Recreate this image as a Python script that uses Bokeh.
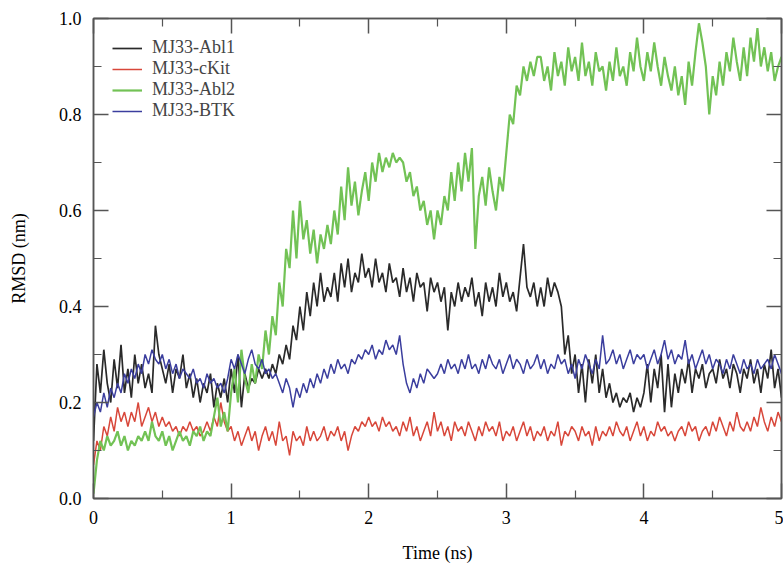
import numpy as np
from bokeh.plotting import figure
from bokeh.models import Range1d, LinearAxis, FixedTicker, PrintfTickFormatter, Legend, LegendItem
from bokeh.embed import file_html
from bokeh.resources import INLINE

# time axis (ns), 0.025 ns sampling
time_ns = np.linspace(0, 5, 201)

abl1 = [
    0.12, 0.28, 0.22, 0.31, 0.24, 0.20, 0.29, 0.23, 0.32, 0.22,
    0.27, 0.21, 0.30, 0.24, 0.28, 0.23, 0.26, 0.22, 0.36, 0.30,
    0.27, 0.24, 0.28, 0.22, 0.27, 0.25, 0.30, 0.23, 0.26, 0.21,
    0.25, 0.20, 0.24, 0.22, 0.26, 0.19, 0.24, 0.21, 0.25, 0.20,
    0.27, 0.22, 0.30, 0.19, 0.26, 0.23, 0.25, 0.24, 0.27, 0.25,
    0.27, 0.25, 0.28, 0.26, 0.30, 0.28, 0.32, 0.29, 0.36, 0.33,
    0.40, 0.35, 0.43, 0.38, 0.45, 0.40, 0.47, 0.41, 0.44, 0.42,
    0.47, 0.41, 0.49, 0.44, 0.50, 0.43, 0.47, 0.45, 0.51, 0.46,
    0.48, 0.44, 0.50, 0.45, 0.47, 0.43, 0.49, 0.45, 0.46, 0.42,
    0.48, 0.43, 0.46, 0.41, 0.47, 0.44, 0.45, 0.39, 0.46, 0.43,
    0.45, 0.41, 0.44, 0.35, 0.43, 0.40, 0.45, 0.41, 0.44, 0.42,
    0.46, 0.40, 0.43, 0.38, 0.45, 0.41, 0.44, 0.40, 0.47, 0.42,
    0.45, 0.41, 0.43, 0.39, 0.46, 0.53, 0.44, 0.42, 0.45, 0.40,
    0.44, 0.40, 0.46, 0.42, 0.45, 0.43, 0.40, 0.30, 0.34, 0.26,
    0.30, 0.22, 0.28, 0.20, 0.29, 0.24, 0.30, 0.22, 0.27, 0.21,
    0.24, 0.20, 0.22, 0.19, 0.21, 0.20, 0.22, 0.18, 0.21, 0.19,
    0.22, 0.28, 0.20, 0.27, 0.23, 0.30, 0.18, 0.28, 0.19, 0.26,
    0.22, 0.27, 0.24, 0.29, 0.22, 0.27, 0.25, 0.28, 0.23, 0.26,
    0.27, 0.24, 0.29, 0.25, 0.27, 0.23, 0.28, 0.26, 0.22, 0.27,
    0.25, 0.29, 0.24, 0.27, 0.22, 0.28, 0.25, 0.31, 0.23, 0.27,
    0.21,
]

ckit = [
    0.07, 0.12, 0.10, 0.15, 0.13, 0.17, 0.14, 0.19, 0.16, 0.18,
    0.15, 0.18, 0.16, 0.20, 0.15, 0.17, 0.19, 0.16, 0.18, 0.15,
    0.17, 0.15, 0.16, 0.14, 0.15, 0.13, 0.15, 0.14, 0.16, 0.14,
    0.15, 0.13, 0.14, 0.16, 0.14, 0.17, 0.15, 0.20, 0.16, 0.14,
    0.15, 0.12, 0.14, 0.11, 0.13, 0.15, 0.12, 0.14, 0.10, 0.13,
    0.15, 0.12, 0.14, 0.11, 0.16, 0.12, 0.13, 0.09, 0.14, 0.12,
    0.13, 0.11, 0.15, 0.12, 0.14, 0.12, 0.13, 0.15, 0.12, 0.14,
    0.13, 0.15, 0.12, 0.14, 0.10, 0.13, 0.15, 0.14, 0.16, 0.15,
    0.17, 0.15, 0.16, 0.14, 0.17, 0.15, 0.16, 0.14, 0.15, 0.13,
    0.16, 0.14, 0.17, 0.13, 0.15, 0.12, 0.14, 0.16, 0.13, 0.18,
    0.14, 0.16, 0.13, 0.15, 0.12, 0.16, 0.14, 0.15, 0.13, 0.16,
    0.14, 0.12, 0.15, 0.13, 0.16, 0.14, 0.15, 0.13, 0.16, 0.12,
    0.14, 0.13, 0.15, 0.12, 0.14, 0.16, 0.13, 0.15, 0.12, 0.14,
    0.13, 0.15, 0.12, 0.14, 0.13, 0.16, 0.11, 0.14, 0.13, 0.15,
    0.14, 0.12, 0.15, 0.13, 0.14, 0.11, 0.15, 0.12, 0.14, 0.13,
    0.15, 0.13, 0.16, 0.14, 0.13, 0.15, 0.12, 0.14, 0.16, 0.13,
    0.15, 0.12, 0.14, 0.13, 0.16, 0.14, 0.15, 0.13, 0.14, 0.12,
    0.14, 0.15, 0.13, 0.16, 0.14, 0.15, 0.12, 0.14, 0.15, 0.13,
    0.16, 0.14, 0.17, 0.15, 0.13, 0.16, 0.14, 0.18, 0.15, 0.14,
    0.16, 0.14, 0.17, 0.15, 0.19, 0.16, 0.14, 0.17, 0.15, 0.18,
    0.16,
]

abl2 = [
    0.01, 0.08, 0.12, 0.10, 0.13, 0.11, 0.12, 0.14, 0.11, 0.13,
    0.10, 0.12, 0.11, 0.13, 0.12, 0.14, 0.12, 0.16, 0.13, 0.12,
    0.14, 0.11, 0.13, 0.10, 0.12, 0.14, 0.12, 0.13, 0.11, 0.14,
    0.13, 0.15, 0.12, 0.14, 0.13, 0.17, 0.21, 0.15, 0.18, 0.14,
    0.22, 0.27, 0.20, 0.31, 0.25, 0.22, 0.28, 0.24, 0.30, 0.27,
    0.35, 0.30, 0.38, 0.34, 0.45, 0.40, 0.52, 0.48, 0.60, 0.50,
    0.62, 0.54, 0.58, 0.51, 0.56, 0.49, 0.55, 0.52, 0.57, 0.53,
    0.60, 0.55, 0.65, 0.58, 0.69, 0.61, 0.66, 0.59, 0.64, 0.68,
    0.62, 0.70, 0.66, 0.72, 0.68, 0.71, 0.69, 0.72, 0.70, 0.71,
    0.70, 0.66, 0.68, 0.63, 0.65, 0.60, 0.62, 0.57, 0.60, 0.54,
    0.60, 0.57, 0.63, 0.60, 0.68, 0.62, 0.70, 0.64, 0.72, 0.66,
    0.73, 0.52, 0.63, 0.67, 0.61, 0.69, 0.64, 0.60, 0.67, 0.64,
    0.72, 0.80, 0.78, 0.86, 0.84, 0.90, 0.87, 0.91, 0.88, 0.92,
    0.92, 0.87, 0.90, 0.85, 0.93, 0.88, 0.91, 0.86, 0.94, 0.89,
    0.92, 0.87, 0.95, 0.88, 0.91, 0.86, 0.93, 0.89, 0.90, 0.85,
    0.91, 0.87, 0.94, 0.88, 0.90, 0.86, 0.93, 0.89, 0.96, 0.90,
    0.87, 0.93, 0.89, 0.95, 0.90, 0.86, 0.92, 0.88, 0.85, 0.90,
    0.84, 0.88, 0.82, 0.91, 0.86, 0.93, 0.99, 0.95, 0.90, 0.80,
    0.88, 0.84, 0.91, 0.86, 0.93, 0.89, 0.96, 0.91, 0.87, 0.94,
    0.88, 0.96, 0.91, 0.98, 0.90, 0.94, 0.89, 0.93, 0.87, 0.90,
    0.92,
]

btk = [
    0.17, 0.20, 0.18, 0.22, 0.19, 0.23, 0.21, 0.24, 0.22, 0.26,
    0.24, 0.27, 0.25, 0.28, 0.26, 0.30, 0.28, 0.31, 0.29, 0.28,
    0.30, 0.27, 0.29, 0.26, 0.28, 0.25, 0.27, 0.26, 0.25, 0.27,
    0.24, 0.25, 0.23, 0.26, 0.24, 0.25, 0.23, 0.24, 0.22, 0.25,
    0.29, 0.27, 0.30, 0.28, 0.26, 0.29, 0.31, 0.28, 0.27, 0.29,
    0.26, 0.27, 0.25, 0.26, 0.24, 0.22, 0.25, 0.23, 0.19, 0.23,
    0.21, 0.24, 0.22, 0.25, 0.23, 0.26, 0.24, 0.27, 0.25, 0.28,
    0.26, 0.29, 0.27, 0.28, 0.26, 0.29, 0.28, 0.30, 0.29, 0.31,
    0.30, 0.32, 0.29, 0.31, 0.30, 0.33, 0.31, 0.32, 0.30, 0.34,
    0.28, 0.24, 0.22, 0.25, 0.23, 0.26, 0.24, 0.27, 0.26, 0.25,
    0.26, 0.28, 0.26, 0.29, 0.27, 0.28, 0.26, 0.29, 0.27, 0.30,
    0.27, 0.28, 0.26, 0.29, 0.27, 0.30, 0.28, 0.27, 0.29, 0.26,
    0.28, 0.30, 0.27, 0.29, 0.28, 0.26, 0.29, 0.27, 0.28, 0.30,
    0.27, 0.29, 0.26, 0.28, 0.27, 0.30, 0.28, 0.29, 0.26, 0.28,
    0.25, 0.29, 0.27, 0.30, 0.28, 0.26, 0.29, 0.27, 0.34, 0.28,
    0.29, 0.31, 0.28, 0.30, 0.27, 0.29, 0.31, 0.28, 0.30, 0.29,
    0.30, 0.27, 0.29, 0.31, 0.28, 0.30, 0.33, 0.29, 0.31, 0.28,
    0.30, 0.29, 0.33, 0.28, 0.30, 0.27, 0.29, 0.31, 0.28, 0.30,
    0.27, 0.29, 0.28, 0.26, 0.29, 0.27, 0.30, 0.28, 0.26, 0.29,
    0.27, 0.28, 0.26, 0.29, 0.27, 0.28, 0.29, 0.27, 0.30, 0.28,
    0.26,
]

series_names = ["MJ33-Abl1", "MJ33-cKit", "MJ33-Abl2", "MJ33-BTK"]
series_colors = ["#2a2a2a", "#d8473a", "#72c255", "#3b3e9e"]
series_widths = [1.7, 1.5, 2.2, 1.5]

x_ticks = [0, 1, 2, 3, 4, 5]
x_minor = [0.5, 1.5, 2.5, 3.5, 4.5]
y_ticks = [0.0, 0.2, 0.4, 0.6, 0.8, 1.0]
y_minor = [0.1, 0.3, 0.5, 0.7, 0.9]

FONT = "'Liberation Serif', serif"
AX = "#555555"

p = figure(width=783, height=567, output_backend="svg", toolbar_location=None,
           x_range=Range1d(0, 5), y_range=Range1d(0, 1.0),
           min_border_left=93, min_border_right=2, min_border_top=18, min_border_bottom=69,
           x_axis_label="Time (ns)", y_axis_label="RMSD (nm)")
p.grid.visible = False
p.outline_line_color = AX
p.outline_line_width = 1.5
p.background_fill_color = "white"
p.border_fill_color = "white"

renderers = []
for data, col, w in zip([abl1, ckit, abl2, btk], series_colors, series_widths):
    r = p.line(time_ns, data, line_color=col, line_width=w)
    renderers.append(r)


def style_axis(ax, show_labels=True):
    ax.axis_line_color = AX
    ax.axis_line_width = 1.5
    ax.major_tick_line_color = AX
    ax.minor_tick_line_color = AX
    ax.major_tick_line_width = 1.5
    ax.minor_tick_line_width = 1.2
    ax.major_tick_in = 15
    ax.major_tick_out = 0
    ax.minor_tick_in = 8
    ax.minor_tick_out = 0
    ax.major_label_text_font = FONT
    ax.major_label_text_font_size = "18px"
    ax.major_label_text_color = "black" if show_labels else None
    ax.axis_label_text_font = FONT
    ax.axis_label_text_font_size = "18px"
    ax.axis_label_text_font_style = "normal"
    ax.axis_label_text_color = "black"


xa = p.xaxis[0]
xa.ticker = FixedTicker(ticks=x_ticks, minor_ticks=x_minor)
style_axis(xa)
xa.major_label_standoff = 12
xa.axis_label_standoff = 16

ya = p.yaxis[0]
ya.ticker = FixedTicker(ticks=y_ticks, minor_ticks=y_minor)
ya.formatter = PrintfTickFormatter(format="%.1f")
style_axis(ya)
ya.major_label_standoff = 12
ya.axis_label_standoff = 27

top = LinearAxis(ticker=FixedTicker(ticks=x_ticks, minor_ticks=x_minor))
style_axis(top, False)
top.major_label_text_font_size = "0px"
p.add_layout(top, "above")

right = LinearAxis(ticker=FixedTicker(ticks=y_ticks, minor_ticks=y_minor))
style_axis(right, False)
right.major_label_text_font_size = "0px"
p.add_layout(right, "right")

legend = Legend(items=[LegendItem(label=n, renderers=[r]) for n, r in zip(series_names, renderers)],
                location="top_left")
legend.margin = 19
legend.padding = 5
legend.spacing = 0
legend.label_height = 20
legend.glyph_height = 20
legend.glyph_width = 30
legend.label_standoff = 10
legend.label_text_font = FONT
legend.label_text_font_size = "18px"
legend.background_fill_alpha = 0
legend.border_line_color = None
p.add_layout(legend)

open("out.html", "w").write(file_html(p, INLINE))
